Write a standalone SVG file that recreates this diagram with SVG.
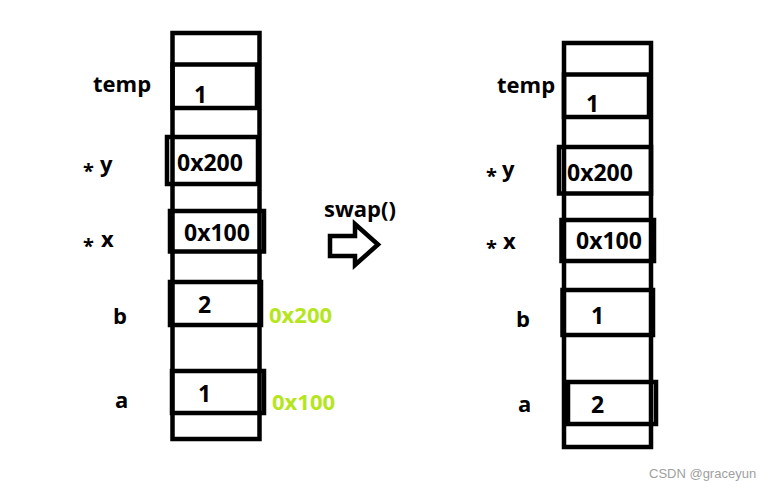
<svg xmlns="http://www.w3.org/2000/svg" width="770" height="493" viewBox="0 0 770 493">
<style>
.ln{fill:none;stroke:#000;stroke-width:4.5;stroke-linecap:square}
.t{font-family:"Open Sans","Noto Sans",sans-serif;font-weight:700;font-size:22px;fill:#000}
.v{font-family:"Open Sans","Noto Sans",sans-serif;font-weight:700;font-size:23px;fill:#000}
.s{font-family:"Open Sans","Noto Sans",sans-serif;font-weight:700;font-size:20px;fill:#000}
.g{font-family:"Open Sans","Noto Sans",sans-serif;font-weight:700;font-size:22px;fill:#b5e61d}
.w{font-family:"Liberation Sans",Arial,sans-serif;font-size:13px;fill:#a0a0a0}
</style>
<rect width="770" height="493" fill="#fff"/>
<g id="left-stack">
  <rect class="ln" x="172.5" y="33" width="87" height="406"/>
</g>
<g id="left-temp">
  <rect class="ln" x="172.5" y="64.5" width="84.5" height="43.5"/>
  <text class="t" x="93" y="92">temp</text>
  <text class="v" x="194" y="103">1</text>
</g>
<g id="left-y">
  <rect class="ln" x="167" y="137" width="91" height="47"/>
  <text class="s" x="83" y="178">*</text>
  <text class="t" x="100" y="172">y</text>
  <text class="v" x="177" y="171">0x200</text>
</g>
<g id="left-x">
  <rect class="ln" x="170" y="211" width="94" height="40.5"/>
  <text class="s" x="83" y="253">*</text>
  <text class="t" x="101" y="247">x</text>
  <text class="v" x="184" y="241">0x100</text>
</g>
<g id="left-b">
  <rect class="ln" x="170" y="282" width="91" height="43"/>
  <text class="t" x="113" y="324">b</text>
  <text class="v" x="198" y="313">2</text>
  <text class="g" x="269" y="323">0x200</text>
</g>
<g id="left-a">
  <rect class="ln" x="172" y="371" width="92" height="42"/>
  <text class="t" x="115" y="408">a</text>
  <text class="v" x="198" y="402">1</text>
  <text class="g" x="272" y="410">0x100</text>
</g>
<g id="swap">
  <text class="t" x="324" y="217">swap()</text>
  <polygon class="ln" points="330,236 355,236 355,224 378,244.5 355,265 355,256 330,256" style="stroke-linejoin:miter"/>
</g>
<g id="right-stack">
  <rect class="ln" x="564" y="43" width="87" height="404"/>
</g>
<g id="right-temp">
  <rect class="ln" x="564" y="74.5" width="85" height="42.5"/>
  <text class="t" x="497" y="93">temp</text>
  <text class="v" x="586" y="112">1</text>
</g>
<g id="right-y">
  <rect class="ln" x="559" y="147" width="92" height="46.5"/>
  <text class="s" x="486" y="183">*</text>
  <text class="t" x="502" y="177">y</text>
  <text class="v" x="567" y="181">0x200</text>
</g>
<g id="right-x">
  <rect class="ln" x="561.5" y="220" width="92.5" height="41"/>
  <text class="s" x="486" y="255">*</text>
  <text class="t" x="503" y="249">x</text>
  <text class="v" x="576" y="249">0x100</text>
</g>
<g id="right-b">
  <rect class="ln" x="562.5" y="290" width="90.5" height="45"/>
  <text class="t" x="516" y="327">b</text>
  <text class="v" x="591" y="324">1</text>
</g>
<g id="right-a">
  <rect class="ln" x="568" y="382" width="88" height="42"/>
  <text class="t" x="518" y="412">a</text>
  <text class="v" x="591" y="413">2</text>
</g>
<g id="connectors"></g>
<text class="w" x="649" y="478">CSDN @graceyun</text>
</svg>
